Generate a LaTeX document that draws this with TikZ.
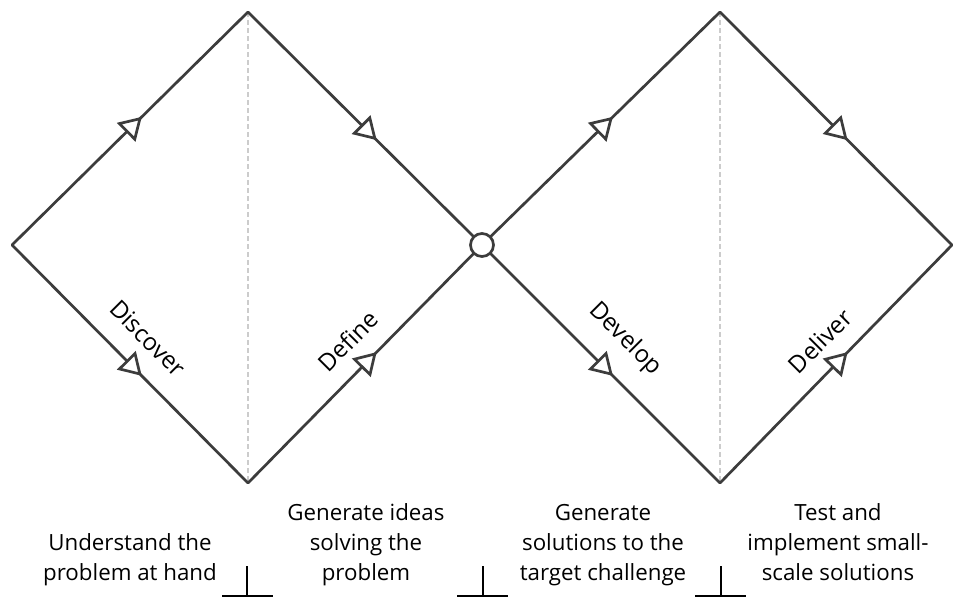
\documentclass[tikz,border=0pt]{standalone}
\usepackage{fontspec}
\setmainfont{Open Sans}
\usetikzlibrary{arrows.meta,decorations.markings}
\definecolor{edgegray}{HTML}{3C3C3C}
\definecolor{guidegray}{HTML}{CCCCCC}
\tikzset{
  edge/.style={draw=edgegray, line width=2.7pt, line cap=round, line join=miter,
    postaction={decorate},
    decoration={markings, mark=at position 0.55 with {\arrow[line width=2.7pt, edgegray]{Triangle[length=22pt,width=26pt,fill=white]}}}},
  guide/.style={draw=guidegray, line width=1.2pt, dashed, dash pattern=on 5pt off 3pt},
  phase/.style={font=\fontsize{24}{28}\selectfont, inner sep=0pt},
  desc/.style={font=\fontsize{22.3}{30}\selectfont, align=center, inner sep=0pt, anchor=base},
  tick/.style={draw=black, line width=1.6pt},
  hub/.style={circle, draw=edgegray, line width=2.7pt, fill=white, minimum size=23pt, inner sep=0pt}
}
\begin{document}
\begin{tikzpicture}[x=1pt,y=-1pt]
\useasboundingbox (0,0) rectangle (954,597);
\fill[white] (0,0) rectangle (954,597);
% vertices
\coordinate (L1) at (12,245);
\coordinate (T1) at (248,12);
\coordinate (B1) at (248,483);
\coordinate (C)  at (482,245);
\coordinate (T2) at (720,12);
\coordinate (B2) at (720,483);
\coordinate (R2) at (952,245);
% guides
\draw[guide] (T1) -- (B1);
\draw[guide] (T2) -- (B2);
% edges
\draw[edge] (L1) -- (T1);
\draw[edge] (T1) -- (C);
\draw[edge] (L1) -- (B1);
\draw[edge] (B1) -- (C);
\draw[edge] (C) -- (T2);
\draw[edge] (T2) -- (R2);
\draw[edge] (C) -- (B2);
\draw[edge] (B2) -- (R2);
\node[hub] (hub) at (C) {};
% phase labels
\node[phase, rotate=-45] (discover) at (148,338) {Discover};
\node[phase, rotate=45]  (define)   at (348,341) {Define};
\node[phase, rotate=-45] (develop)  at (625,339) {Develop};
\node[phase, rotate=45]  (deliver)  at (820,341) {Deliver};
% descriptions
\node[desc] (d1) at (130,580.5) {Understand the\\problem at hand};
\node[desc] (d2) at (366,580.5) {Generate ideas\\solving the\\problem};
\node[desc] (d3) at (603,580.5) {Generate\\solutions to the\\target challenge};
\node[desc] (d4) at (838,580.5) {Test and\\implement small-\\scale solutions};
% tick marks
\coordinate (k1t) at (247,566); \coordinate (k1b) at (247,596);
\coordinate (k1l) at (222,596); \coordinate (k1r) at (273,596);
\draw[tick] (k1t) -- (k1b); \draw[tick] (k1l) -- (k1r);
\coordinate (k2t) at (483,566); \coordinate (k2b) at (483,596);
\coordinate (k2l) at (457,596); \coordinate (k2r) at (508,596);
\draw[tick] (k2t) -- (k2b); \draw[tick] (k2l) -- (k2r);
\coordinate (k3t) at (721,566); \coordinate (k3b) at (721,596);
\coordinate (k3l) at (695,596); \coordinate (k3r) at (746,596);
\draw[tick] (k3t) -- (k3b); \draw[tick] (k3l) -- (k3r);
\end{tikzpicture}
\end{document}
